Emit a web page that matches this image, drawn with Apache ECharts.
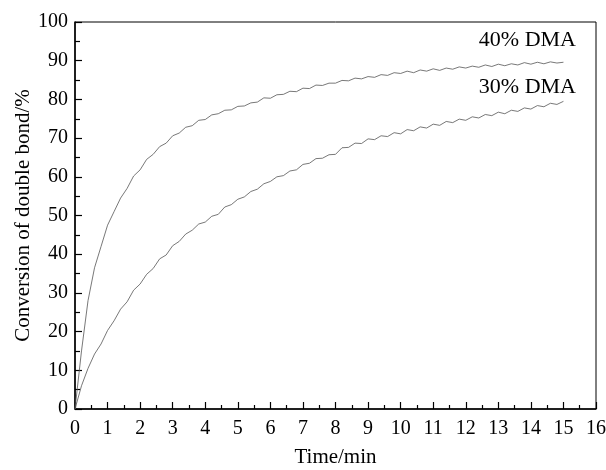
<!DOCTYPE html>
<html>
<head>
<meta charset="utf-8">
<script src="https://cdn.jsdelivr.net/npm/echarts@6/dist/echarts.min.js"></script>
<style>
  html, body { margin: 0; padding: 0; background: #fff; }
  #main { width: 606px; height: 470px; }
</style>
</head>
<body>
<div id="main"></div>
<script>
// time axis, 0 .. 15 min every 0.2 min
var times = [];
for (var i = 0; i <= 75; i++) times.push(+(i * 0.2).toFixed(1));

// conversion of double bond (%)
var dma40 = [0, 15, 28, 36.5, 42, 47.5, 51, 54.5, 57, 60.2, 61.8, 64.5, 65.8, 67.8, 68.7, 70.6,
  71.3, 72.8, 73.2, 74.6, 74.8, 76, 76.3, 77.2, 77.3, 78.2, 78.3, 79.1, 79.3, 80.4,
  80.3, 81.2, 81.3, 82.1, 82, 82.9, 82.8, 83.7, 83.6, 84.2, 84.2, 84.9, 84.8, 85.5,
  85.3, 85.9, 85.7, 86.4, 86.2, 86.9, 86.7, 87.3, 86.9, 87.6, 87.3, 87.9, 87.5, 88.1,
  87.8, 88.4, 88.1, 88.6, 88.3, 88.9, 88.5, 89.1, 88.7, 89.2, 88.9, 89.5, 89.1, 89.6,
  89.2, 89.7, 89.4, 89.6];
var dma30 = [0, 6, 10.5, 14.2, 16.8, 20.3, 22.8, 25.8, 27.7, 30.7, 32.3, 34.8, 36.3, 38.8, 39.8, 42.2,
  43.3, 45.2, 46.2, 47.8, 48.3, 49.8, 50.3, 52.2, 52.8, 54.2, 54.8, 56.2, 56.8, 58.2,
  58.8, 60, 60.3, 61.5, 61.8, 63.2, 63.5, 64.7, 64.8, 65.7, 65.8, 67.5, 67.6, 68.7,
  68.6, 69.8, 69.6, 70.6, 70.4, 71.4, 71.1, 72.2, 71.9, 72.9, 72.6, 73.6, 73.3, 74.3,
  74, 74.9, 74.6, 75.5, 75.2, 76.1, 75.8, 76.7, 76.3, 77.2, 76.9, 77.8, 77.5, 78.4,
  78.1, 79, 78.7, 79.5];

var xTicks = [0, 1, 2, 3, 4, 5, 6, 7, 8, 9, 10, 11, 12, 13, 14, 15, 16];
var yTicks = [0, 10, 20, 30, 40, 50, 60, 70, 80, 90, 100];
var seriesNames = ['40% DMA', '30% DMA'];

function pairs(ys) {
  return times.map(function (t, i) { return [t, ys[i]]; });
}

var font = '"Liberation Serif", "DejaVu Serif", serif';
var chart = echarts.init(document.getElementById('main'));

var option = {
  animation: false,
  textStyle: { fontFamily: font },
  grid: {
    left: 75, right: 10, top: 22, bottom: 61,
    outerBoundsMode: 'none', containLabel: false,
    show: true, borderColor: '#000', borderWidth: 1
  },
  xAxis: {
    type: 'value',
    min: xTicks[0], max: xTicks[xTicks.length - 1], interval: 1,
    name: 'Time/min', nameLocation: 'middle', nameGap: 38, nameMoveOverlap: false,
    nameTextStyle: { fontFamily: font, fontSize: 21, color: '#000' },
    axisLine: { lineStyle: { color: '#000', width: 1.5 } },
    axisTick: { inside: true, length: 7, lineStyle: { color: '#000', width: 1.2 } },
    minorTick: { show: true, splitNumber: 2, length: 4, lineStyle: { color: '#000', width: 1.2 } },
    axisLabel: { fontFamily: font, fontSize: 20, color: '#000', margin: 10 },
    splitLine: { show: false }
  },
  yAxis: {
    type: 'value',
    min: yTicks[0], max: yTicks[yTicks.length - 1], interval: 10,
    name: 'Conversion of double bond/%', nameLocation: 'middle', nameGap: 41, nameMoveOverlap: false,
    nameTextStyle: { fontFamily: font, fontSize: 21, color: '#000' },
    axisLine: { lineStyle: { color: '#000', width: 1.5 } },
    axisTick: { inside: true, length: 7, lineStyle: { color: '#000', width: 1.2 } },
    minorTick: { show: true, splitNumber: 2, length: 5, lineStyle: { color: '#000', width: 1.2 } },
    axisLabel: { fontFamily: font, fontSize: 20, color: '#000', margin: 7 },
    splitLine: { show: false }
  },
  series: [
    {
      name: seriesNames[0], type: 'line', data: pairs(dma40),
      showSymbol: false, lineStyle: { color: '#555', width: 0.8 }
    },
    {
      name: seriesNames[1], type: 'line', data: pairs(dma30),
      showSymbol: false, lineStyle: { color: '#555', width: 0.8 }
    }
  ],
  graphic: [
    { type: 'text', right: 30, top: 29, style: { text: seriesNames[0], font: '22px ' + font, fill: '#000' } },
    { type: 'text', right: 30, top: 76, style: { text: seriesNames[1], font: '22px ' + font, fill: '#000' } }
  ]
};
chart.setOption(option);
</script>
</body>
</html>
